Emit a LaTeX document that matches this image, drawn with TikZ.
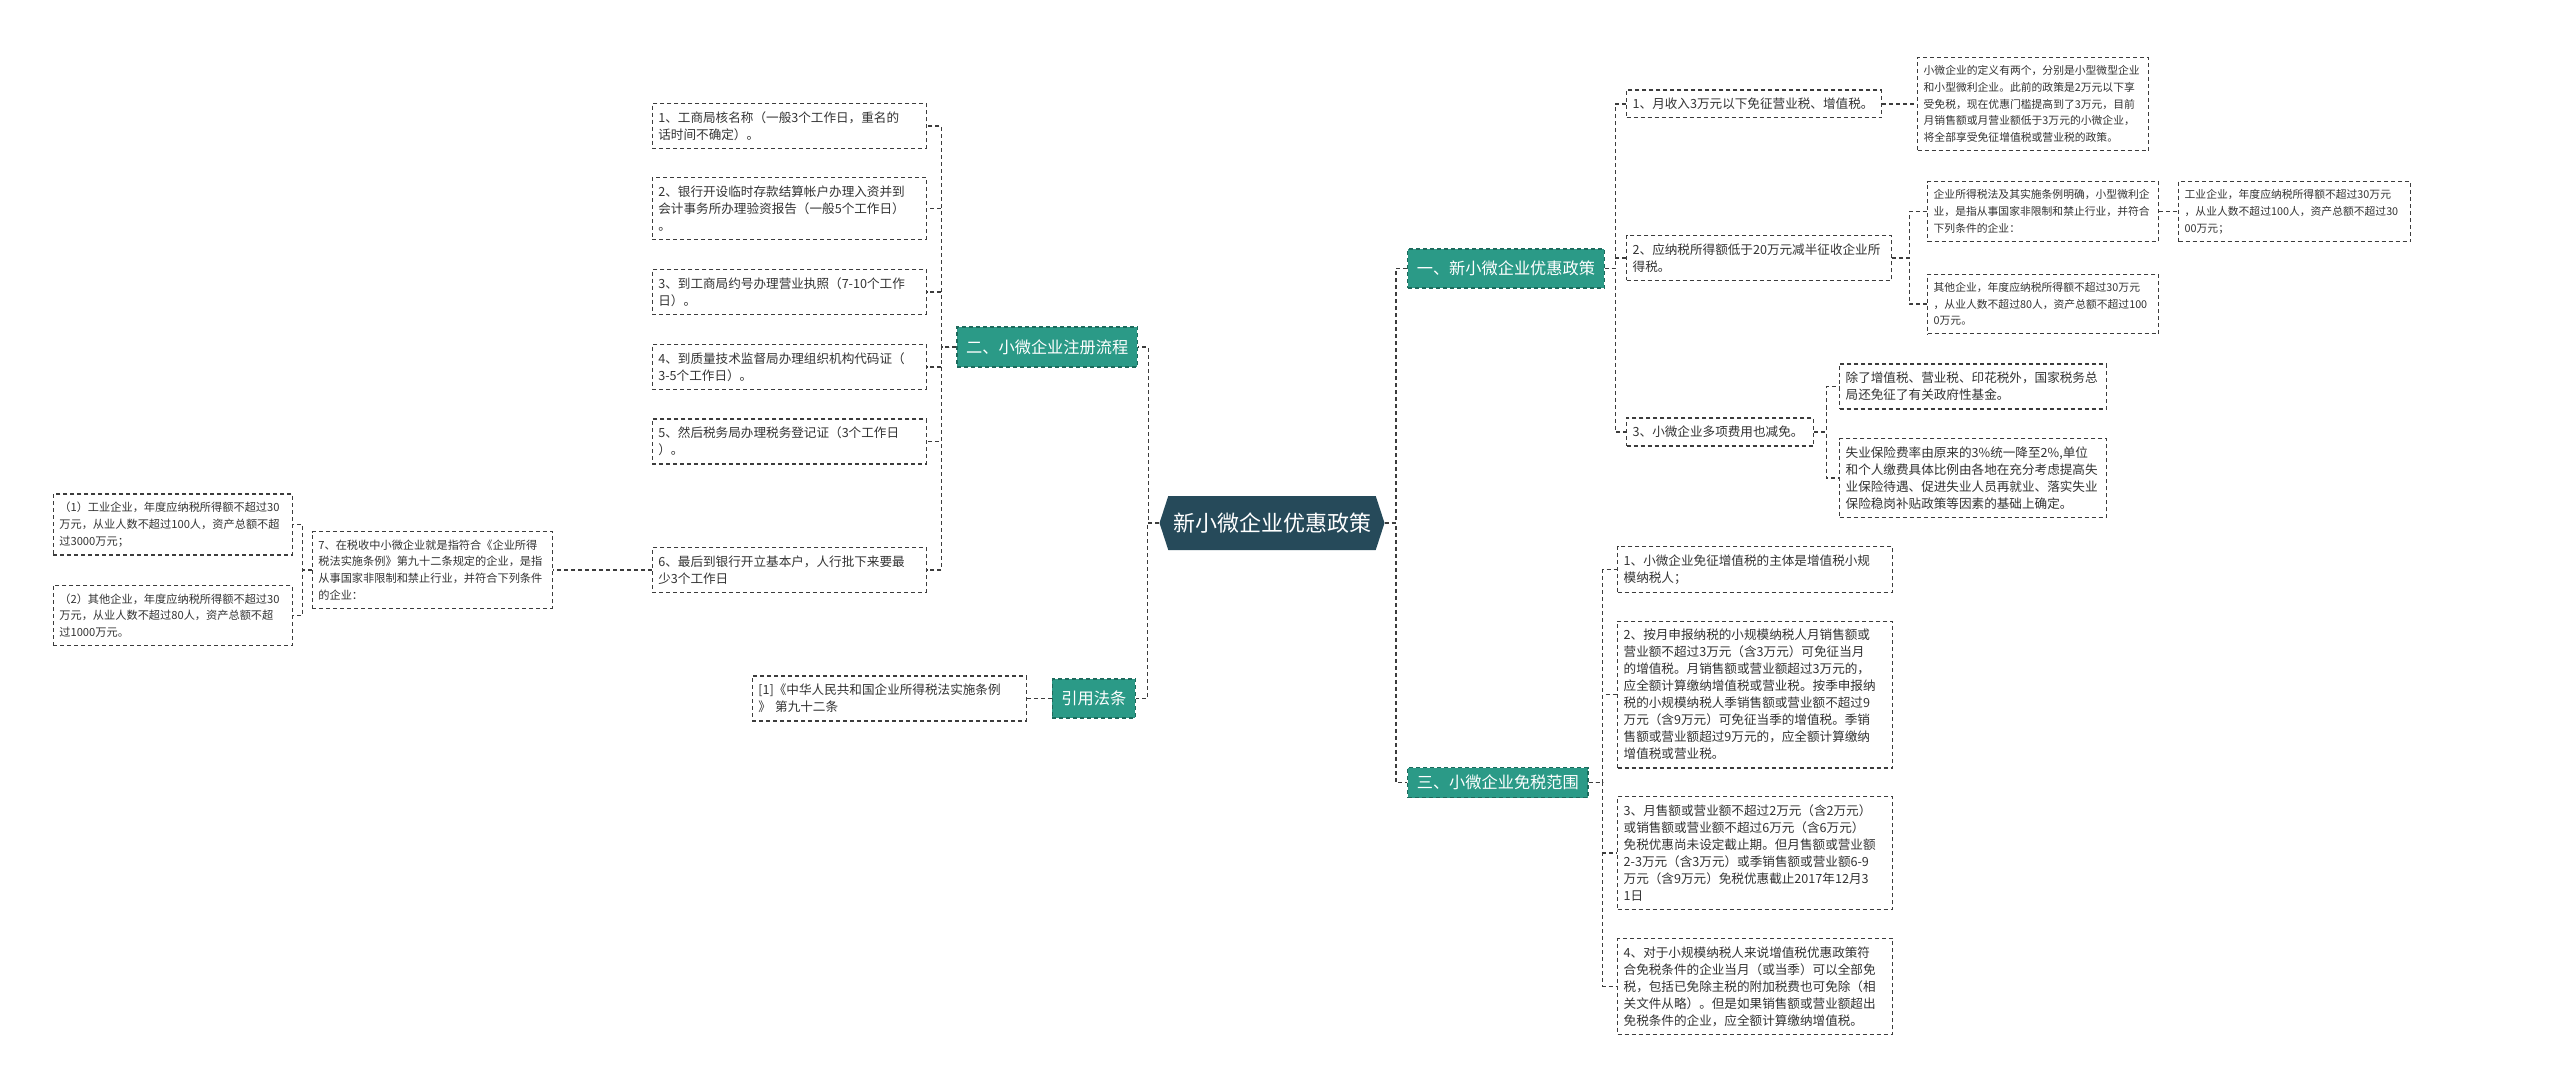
\documentclass[tikz,border=0pt]{standalone}
\usepackage{fontspec}
\setmainfont{Noto Sans CJK SC}
\usepackage{tikz}
\usetikzlibrary{calc, shapes.symbols}
\definecolor{rootfill}{HTML}{264A5A}
\definecolor{branchfill}{HTML}{2B9A87}
\definecolor{branchline}{HTML}{1D6A5C}
\definecolor{wire}{HTML}{3C3C3C}
\definecolor{ink}{HTML}{333333}

\begin{document}
\begin{tikzpicture}[
      x=0.5pt, y=-0.5pt,
      link/.style={draw=wire, line width=0.65pt, dash pattern=on 2pt off 1.5pt},
      elbow/.style={to path={-| ($(\tikztostart)!0.5!(\tikztotarget)$) |- (\tikztotarget) \tikztonodes}},
      root/.style={signal, signal to=west and east, signal pointer angle=144,
                   fill=rootfill, text=white, font=\fontsize{11}{13}\selectfont,
                   minimum width=112.5pt, minimum height=27pt, inner sep=0pt},
      branch/.style={rectangle, fill=branchfill, draw=branchline, line width=0.6pt,
                     dash pattern=on 2pt off 1.5pt, text=white,
                     font=\fontsize{8.1}{10}\selectfont, inner xsep=4.6pt,
                     inner ysep=0pt, minimum height=19.5pt},
      leaf/.style={rectangle, draw=wire, line width=0.65pt, dash pattern=on 2pt off 1.5pt,
                   fill=white, text=ink, font=\fontsize{6.3}{8.5}\selectfont,
                   align=left, text width=#1, inner xsep=3pt, inner ysep=4pt},
      smallfont/.style={font=\fontsize{5.6}{8.4}\selectfont},
      tinyfont/.style={font=\fontsize{5.4}{8.4}\selectfont},
    ]
    \fill[white] (0,0) rectangle (2560,1091);
    \useasboundingbox (0,0) rectangle (2560,1091);

    \node[root] (root) at (1272,523) {新小微企业优惠政策};

    \node[branch, anchor=east, minimum height=20pt] (reg) at (1138,347) {二、小微企业注册流程};
    \node[branch, anchor=east] (law) at (1136,698.5) {引用法条};
    \node[branch, anchor=west] (pol) at (1407,268.5) {一、新小微企业优惠政策};
    \node[branch, anchor=west, minimum height=15pt] (exe) at (1407,782.5) {三、小微企业免税范围};

    \node[leaf=131pt, anchor=east] (reg1) at (927,126) {1、工商局核名称（一般3个工作日，重名的\\话时间不确定）。};
    \node[leaf=131pt, anchor=east] (reg2) at (927,208.5) {2、银行开设临时存款结算帐户办理入资并到\\会计事务所办理验资报告（一般5个工作日）\\。};
    \node[leaf=131pt, anchor=east] (reg3) at (927,292) {3、到工商局约号办理营业执照（7-10个工作\\日）。};
    \node[leaf=131pt, anchor=east] (reg4) at (927,367) {4、到质量技术监督局办理组织机构代码证（\\3-5个工作日）。};
    \node[leaf=131pt, anchor=east] (reg5) at (927,441.5) {5、然后税务局办理税务登记证（3个工作日\\）。};
    \node[leaf=131pt, anchor=east] (reg6) at (927,570) {6、最后到银行开立基本户，人行批下来要最\\少3个工作日};
    \node[leaf=114pt, smallfont, anchor=east] (reg7) at (553,570) {7、在税收中小微企业就是指符合《企业所得\\税法实施条例》第九十二条规定的企业，是指\\从事国家非限制和禁止行业，并符合下列条件\\的企业：};
    \node[leaf=113.5pt, smallfont, anchor=east] (reg7a) at (293,524.5) {（1）工业企业，年度应纳税所得额不超过30\\万元，从业人数不超过100人，资产总额不超\\过3000万元；};
    \node[leaf=113.5pt, smallfont, anchor=east] (reg7b) at (293,615.5) {（2）其他企业，年度应纳税所得额不超过30\\万元，从业人数不超过80人，资产总额不超\\过1000万元。};
    \node[leaf=131pt, anchor=east] (cite) at (1027,698.5) {[1]《中华人民共和国企业所得税法实施条例\\》 第九十二条};

    \node[leaf=121.5pt, anchor=west] (pol1) at (1626,104) {1、月收入3万元以下免征营业税、增值税。};
    \node[leaf=109.5pt, tinyfont, anchor=west] (pol1a) at (1917,104) {小微企业的定义有两个，分别是小型微型企业\\和小型微利企业。此前的政策是2万元以下享\\受免税，现在优惠门槛提高到了3万元，目前\\月销售额或月营业额低于3万元的小微企业，\\将全部享受免征增值税或营业税的政策。};
    \node[leaf=126.5pt, anchor=west] (pol2) at (1626,258) {2、应纳税所得额低于20万元减半征收企业所\\得税。};
    \node[leaf=109.5pt, tinyfont, anchor=west] (pol2a) at (1927,211.5) {企业所得税法及其实施条例明确，小型微利企\\业，是指从事国家非限制和禁止行业，并符合\\下列条件的企业：};
    \node[leaf=110pt, tinyfont, anchor=west] (pol2aa) at (2178,211.5) {工业企业，年度应纳税所得额不超过30万元\\，从业人数不超过100人，资产总额不超过30\\00万元；};
    \node[leaf=109.5pt, tinyfont, anchor=west] (pol2b) at (1927,304) {其他企业，年度应纳税所得额不超过30万元\\，从业人数不超过80人，资产总额不超过100\\0万元。};
    \node[leaf=87.5pt, anchor=west] (pol3) at (1626,432) {3、小微企业多项费用也减免。};
    \node[leaf=127.5pt, anchor=west] (pol3a) at (1839,386.5) {除了增值税、营业税、印花税外，国家税务总\\局还免征了有关政府性基金。};
    \node[leaf=127.5pt, anchor=west] (pol3b) at (1839,478) {失业保险费率由原来的3\%统一降至2\%,单位\\和个人缴费具体比例由各地在充分考虑提高失\\业保险待遇、促进失业人员再就业、落实失业\\保险稳岗补贴政策等因素的基础上确定。};

    \node[leaf=131.5pt, anchor=west] (exe1) at (1617,569.5) {1、小微企业免征增值税的主体是增值税小规\\模纳税人；};
    \node[leaf=131.5pt, anchor=west] (exe2) at (1617,694.5) {2、按月申报纳税的小规模纳税人月销售额或\\营业额不超过3万元（含3万元）可免征当月\\的增值税。月销售额或营业额超过3万元的，\\应全额计算缴纳增值税或营业税。按季申报纳\\税的小规模纳税人季销售额或营业额不超过9\\万元（含9万元）可免征当季的增值税。季销\\售额或营业额超过9万元的，应全额计算缴纳\\增值税或营业税。};
    \node[leaf=131.5pt, anchor=west] (exe3) at (1617,853) {3、月售额或营业额不超过2万元（含2万元）\\或销售额或营业额不超过6万元（含6万元）\\免税优惠尚未设定截止期。但月售额或营业额\\2-3万元（含3万元）或季销售额或营业额6-9\\万元（含9万元）免税优惠截止2017年12月3\\1日};
    \node[leaf=131.5pt, anchor=west] (exe4) at (1617,986.5) {4、对于小规模纳税人来说增值税优惠政策符\\合免税条件的企业当月（或当季）可以全部免\\税，包括已免除主税的附加税费也可免除（相\\关文件从略）。但是如果销售额或营业额超出\\免税条件的企业，应全额计算缴纳增值税。};

    \draw[link] (root.west) to[elbow] (reg.east);
    \draw[link] (root.west) to[elbow] (law.east);
    \draw[link] (root.east) to[elbow] (pol.west);
    \draw[link] (root.east) to[elbow] (exe.west);

    \draw[link] (reg.west) to[elbow] (reg1.east);
    \draw[link] (reg.west) to[elbow] (reg2.east);
    \draw[link] (reg.west) to[elbow] (reg3.east);
    \draw[link] (reg.west) to[elbow] (reg4.east);
    \draw[link] (reg.west) to[elbow] (reg5.east);
    \draw[link] (reg.west) to[elbow] (reg6.east);
    \draw[link] (reg6.west) -- (reg7.east);
    \draw[link] (reg7.west) to[elbow] (reg7a.east);
    \draw[link] (reg7.west) to[elbow] (reg7b.east);
    \draw[link] (law.west) -- (cite.east);

    \draw[link] (pol.east) to[elbow] (pol1.west);
    \draw[link] (pol.east) to[elbow] (pol2.west);
    \draw[link] (pol.east) to[elbow] (pol3.west);
    \draw[link] (pol1.east) -- (pol1a.west);
    \draw[link] (pol2.east) to[elbow] (pol2a.west);
    \draw[link] (pol2.east) to[elbow] (pol2b.west);
    \draw[link] (pol2a.east) -- (pol2aa.west);
    \draw[link] (pol3.east) to[elbow] (pol3a.west);
    \draw[link] (pol3.east) to[elbow] (pol3b.west);

    \draw[link] (exe.east) to[elbow] (exe1.west);
    \draw[link] (exe.east) to[elbow] (exe2.west);
    \draw[link] (exe.east) to[elbow] (exe3.west);
    \draw[link] (exe.east) to[elbow] (exe4.west);
  \end{tikzpicture}
\end{document}
